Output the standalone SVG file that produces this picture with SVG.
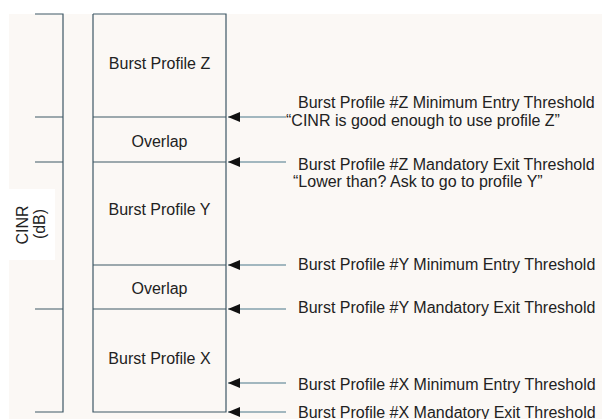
<svg xmlns="http://www.w3.org/2000/svg" width="602" height="419" viewBox="0 0 602 419">
  <defs>
    <marker id="head" markerWidth="12" markerHeight="10" refX="12" refY="5" orient="auto" markerUnits="userSpaceOnUse">
      <path d="M0,0 L12,5 L0,10 Z" fill="#111"/>
    </marker>
    <style>
      .frame { stroke: #3e5866; stroke-width: 1.2; fill: none; }
      .conn { stroke: #4a7689; stroke-width: 1.2; fill: none; }
      .lbl { font-family: "Liberation Sans", Arial, sans-serif; font-size: 16px; fill: #222; }
      .mid { text-anchor: middle; }
    </style>
  </defs>

  <!-- page -->
  <rect x="0" y="0" width="602" height="419" fill="#ffffff"/>
  <rect x="9" y="14" width="593" height="405" fill="#fbf8f5"/>

  <!-- CINR axis -->
  <g id="axis">
    <rect x="9" y="189" width="46" height="71" fill="#ffffff"/>
    <path class="frame" d="M35,14 H63 V412 H35 M35,117 H63 M35,162 H63 M35,309 H63"/>
    <text class="lbl mid" transform="translate(28,225) rotate(-90)">CINR</text>
    <text class="lbl mid" transform="translate(45,224) rotate(-90)">(dB)</text>
  </g>

  <!-- profile column -->
  <g id="profile-z">
    <path class="frame" d="M93,14 H226 V117 M93,14 V117"/>
    <text class="lbl mid" x="159.5" y="69">Burst Profile Z</text>
  </g>
  <g id="overlap-zy">
    <path class="frame" d="M93,117 H226 M93,117 V162 M226,117 V162"/>
    <text class="lbl mid" x="159.5" y="147">Overlap</text>
  </g>
  <g id="profile-y">
    <path class="frame" d="M93,162 H226 M93,162 V265 M226,162 V265"/>
    <text class="lbl mid" x="159.5" y="215">Burst Profile Y</text>
  </g>
  <g id="overlap-yx">
    <path class="frame" d="M93,265 H226 M93,265 V309 M226,265 V309"/>
    <text class="lbl mid" x="159.5" y="294">Overlap</text>
  </g>
  <g id="profile-x">
    <path class="frame" d="M93,309 H226 M93,309 V412 H226 V309"/>
    <text class="lbl mid" x="159.5" y="364">Burst Profile X</text>
  </g>

  <!-- threshold pointers -->
  <g id="connectors">
    <line class="conn" x1="286" y1="117" x2="228" y2="117" marker-end="url(#head)"/>
    <line class="conn" x1="286" y1="162" x2="228" y2="162" marker-end="url(#head)"/>
    <line class="conn" x1="286" y1="265" x2="228" y2="265" marker-end="url(#head)"/>
    <line class="conn" x1="286" y1="309" x2="228" y2="309" marker-end="url(#head)"/>
    <line class="conn" x1="286" y1="383" x2="228" y2="383" marker-end="url(#head)"/>
    <line class="conn" x1="286" y1="412" x2="228" y2="412" marker-end="url(#head)"/>
  </g>

  <!-- threshold labels -->
  <g id="z-entry">
    <text class="lbl" x="298" y="108">Burst Profile #Z Minimum Entry Threshold</text>
    <text class="lbl" x="286" y="126">“CINR is good enough to use profile Z”</text>
  </g>
  <g id="z-exit">
    <text class="lbl" x="298" y="170">Burst Profile #Z Mandatory Exit Threshold</text>
    <text class="lbl" x="293" y="187">“Lower than? Ask to go to profile Y”</text>
  </g>
  <g id="y-entry">
    <text class="lbl" x="298" y="270">Burst Profile #Y Minimum Entry Threshold</text>
  </g>
  <g id="y-exit">
    <text class="lbl" x="298" y="313">Burst Profile #Y Mandatory Exit Threshold</text>
  </g>
  <g id="x-entry">
    <text class="lbl" x="298" y="390">Burst Profile #X Minimum Entry Threshold</text>
  </g>
  <g id="x-exit">
    <text class="lbl" x="298" y="418">Burst Profile #X Mandatory Exit Threshold</text>
  </g>
</svg>
